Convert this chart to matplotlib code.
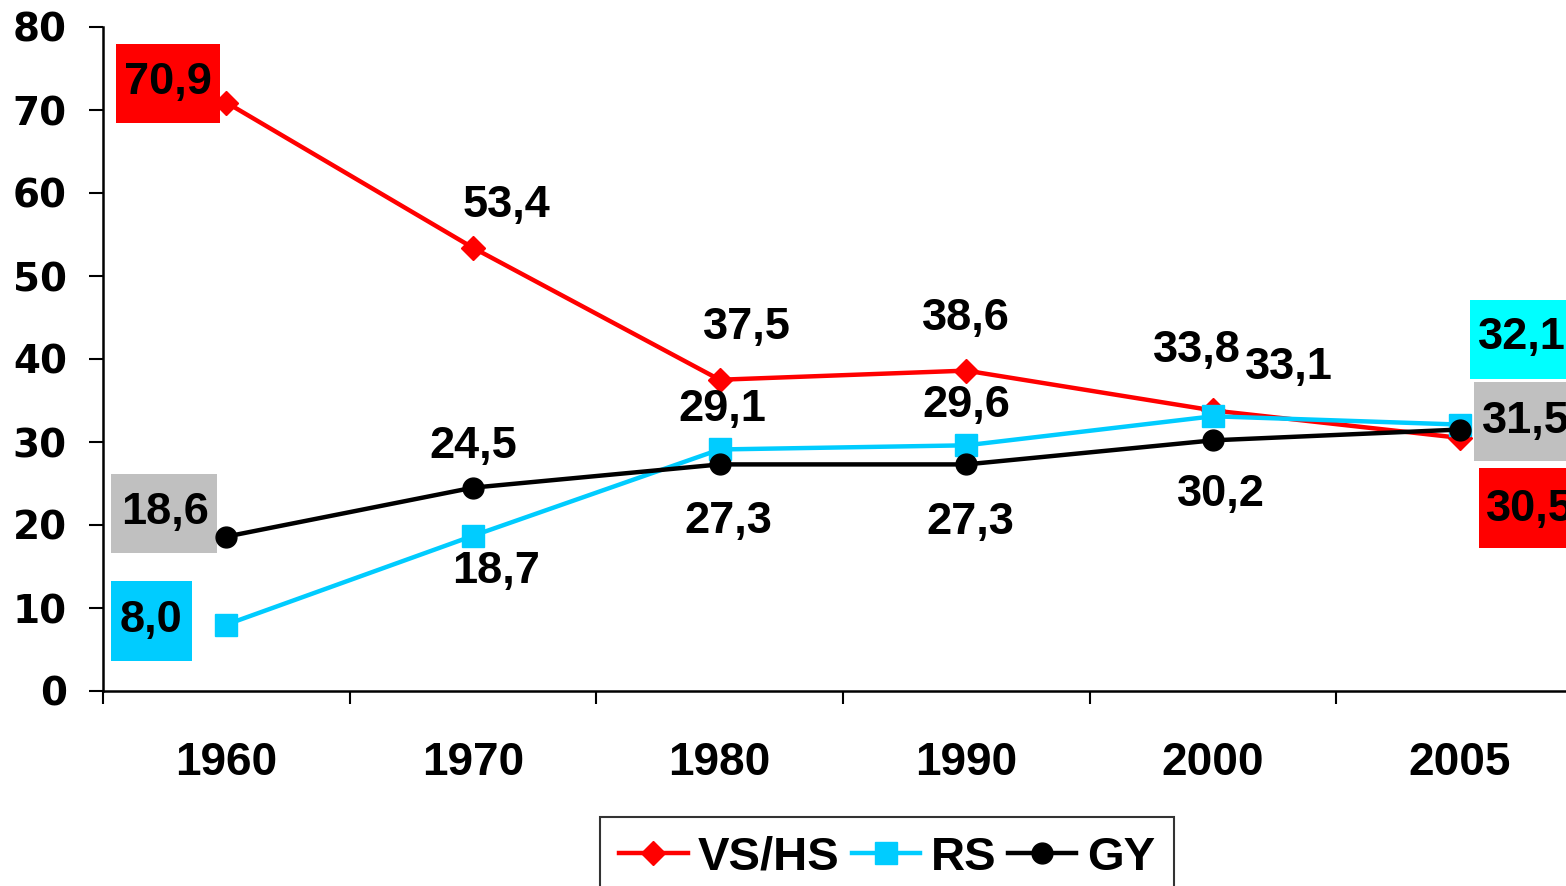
import numpy as np
import matplotlib
matplotlib.use("Agg")
import matplotlib.pyplot as plt
from matplotlib.patches import Rectangle
from matplotlib.transforms import Affine2D, ScaledTranslation

# ---- data ----
years = ["1960", "1970", "1980", "1990", "2000", "2005"]
vshs = [70.9, 53.4, 37.5, 38.6, 33.8, 30.5]
rs = [8.0, 18.7, 29.1, 29.6, 33.1, 32.1]
gy = [18.6, 24.5, 27.3, 27.3, 30.2, 31.5]
series_names = ["VS/HS", "RS", "GY"]

# ---- styles ----
RED = "#FF0000"
CYAN = "#00CCFF"
BLACK = "#000000"

W, H = 1566, 886
fig = plt.figure(figsize=(W / 100, H / 100), dpi=100)
ax = fig.add_axes([103 / W, 1 - 691 / H, (1583 - 103) / W, (691 - 27) / H])

x = np.arange(len(years))
ax.set_xlim(-0.5, len(years) - 0.5)
ax.set_ylim(0, 80)

lw = 3.2
l1, = ax.plot(x, vshs, color=RED, lw=lw, marker="D", ms=12, mec=RED, mfc=RED, zorder=3, label=series_names[0])
l2, = ax.plot(x, rs, color=CYAN, lw=lw, marker="s", ms=16, mec=CYAN, mfc=CYAN, zorder=4, label=series_names[1])
l3, = ax.plot(x, gy, color=BLACK, lw=lw, marker="o", ms=15, mec=BLACK, mfc=BLACK, zorder=5, label=series_names[2])

# axes styling
for s in ["top", "right"]:
    ax.spines[s].set_visible(False)
for s in ["left", "bottom"]:
    ax.spines[s].set_linewidth(1.8)
    ax.spines[s].set_color("black")

ax.set_yticks(np.arange(0, 81, 10))
ax.tick_params(axis="y", direction="out", length=10, width=1.5, pad=16,
               labelsize=28)
for t in ax.get_yticklabels():
    t.set_fontfamily("DejaVu Sans")
    t.set_fontweight("heavy")

ax.set_xticks(x)
ax.set_xticklabels(years)
ax.tick_params(axis="x", which="major", length=0, pad=36, labelsize=33)
for t in ax.get_xticklabels():
    t.set_fontfamily("Liberation Sans")
    t.set_fontweight("bold")
ax.set_xticks(np.arange(-0.5, len(years) + 0.5, 1), minor=True)
ax.tick_params(axis="x", which="minor", direction="out", length=9, width=1.5)

# ---- data labels: (dx, dy) offset in pixels, optional box (cx, cy, w, h, color) ----
label_specs = {
    0: [(-58, 20), (33, 42), (27, 52), (0, 52), (-16, 60), (70, -72)],
    1: [(-75, 4), (23, -36), (3, 40), (0, 40), (76, 49), (62, 87)],
    2: [(-61, 24), (0, 41), (9, -57), (4, -58), (8, -54), (66, 8)],
}
boxes = {
    (0, 0): (-58, 19, 104, 79, RED),
    (0, 5): (71, -70, 104, 80, RED),
    (1, 0): (-75, 4, 81, 80, CYAN),
    (1, 5): (62, 85, 104, 79, "#00FFFF"),
    (2, 0): (-62, 23, 106, 79, "#C0C0C0"),
    (2, 5): (66, 8, 104, 79, "#C0C0C0"),
}
series_vals = [vshs, rs, gy]
for si, vals in enumerate(series_vals):
    for i, v in enumerate(vals):
        dx, dy = label_specs[si][i]
        txt = f"{v:.1f}".replace(".", ",")
        ax.annotate(txt, (x[i], v), xytext=(dx, dy), textcoords="offset pixels",
                    ha="center", va="center", fontsize=32.5, fontweight="bold",
                    fontfamily="Liberation Sans", color="black", zorder=7,
                    annotation_clip=False)
        if (si, i) in boxes:
            cx, cy, bw, bh, col = boxes[(si, i)]
            tr = Affine2D().translate(cx - bw / 2, cy - bh / 2) + ScaledTranslation(x[i], v, ax.transData)
            rect = Rectangle((0, 0), bw, bh, transform=tr, facecolor=col,
                             edgecolor="none", zorder=1.5, clip_on=False)
            ax.add_patch(rect)

# ---- legend ----
leg = fig.legend(handles=[l1, l2, l3], labels=series_names, ncol=3,
                 loc="upper center", bbox_to_anchor=(887 / W, 1 - 817 / H),
                 frameon=True, fancybox=False, edgecolor="black",
                 prop={"family": "Liberation Sans", "weight": "bold", "size": 34},
                 handlelength=1.45, handletextpad=0.22, columnspacing=0.25,
                 borderpad=0.4, borderaxespad=0)
leg.get_frame().set_linewidth(1.5)

fig.savefig("out.png", dpi=100)
